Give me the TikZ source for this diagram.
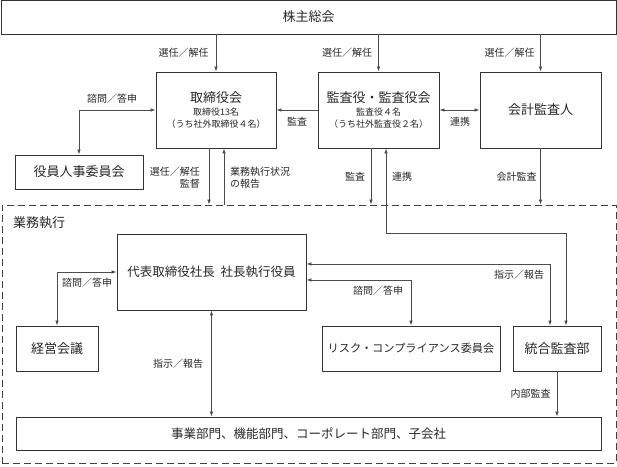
\documentclass[tikz,border=0pt]{standalone}
\usepackage{fontspec}
\setmainfont{Noto Sans CJK JP}
\usepackage{tikz}
\usetikzlibrary{arrows.meta,calc}

\begin{document}
\begin{tikzpicture}[x=1pt,y=1pt,yscale=-1,xscale=1,
    box/.style={draw=black!80,line width=0.9pt,inner sep=0pt,align=center,text=black!85},
    conn/.style={draw=black!70,line width=0.8pt},
    >={Latex[length=5pt,width=3.6pt]},
    lbl/.style={inner sep=0pt,text=black!85,font=\fontsize{10}{12}\selectfont}]
    \useasboundingbox (0,0) rectangle (617,466);

    %Shape: Rectangle [id:gm]
    \node[box,minimum width=615,minimum height=34,font=\fontsize{13}{15}\selectfont] (gm) at (308.5,17) {株主総会};
    %Shape: Rectangle [id:board]
    \node[box,minimum width=120,minimum height=76] (board) at (216,110) {{\fontsize{13}{15}\selectfont 取締役会}\\[1pt]{\fontsize{9}{12}\selectfont 取締役13名}\\{\fontsize{9}{12}\selectfont （うち社外取締役４名）}};
    %Shape: Rectangle [id:aud]
    \node[box,minimum width=121,minimum height=76] (aud) at (378.5,110) {{\fontsize{13}{15}\selectfont 監査役・監査役会}\\[1pt]{\fontsize{9}{12}\selectfont 監査役４名}\\{\fontsize{9}{12}\selectfont （うち社外監査役２名）}};
    %Shape: Rectangle [id:acc]
    \node[box,minimum width=121,minimum height=76,font=\fontsize{13}{15}\selectfont] (acc) at (540.5,110) {会計監査人};
    %Shape: Rectangle [id:hr]
    \node[box,minimum width=128,minimum height=34,font=\fontsize{13}{15}\selectfont] (hr) at (79,172) {役員人事委員会};

    %Shape: Rectangle [id:bizexec]
    \node[draw=black!75,line width=0.9pt,dash pattern=on 7pt off 4pt,minimum width=614,minimum height=258,inner sep=0pt] (bizexec) at (309,334) {};
    % Text Node
    \node[inner sep=0pt,text=black!85,font=\fontsize{13}{15}\selectfont] (bizlbl) at (39,223) {業務執行};

    %Shape: Rectangle [id:ceo]
    \node[box,minimum width=189,minimum height=76,font=\fontsize{12.5}{15}\selectfont] (ceo) at (211.5,272) {代表取締役社長\ \ 社長執行役員};
    %Shape: Rectangle [id:mtg]
    \node[box,minimum width=82,minimum height=45,font=\fontsize{13}{15}\selectfont] (mtg) at (57,348.5) {経営会議};
    %Shape: Rectangle [id:risk]
    \node[box,minimum width=178,minimum height=45,font=\fontsize{11.2}{14}\selectfont] (risk) at (411,348.5) {リスク・コンプライアンス委員会};
    %Shape: Rectangle [id:ia]
    \node[box,minimum width=88,minimum height=45,font=\fontsize{13}{15}\selectfont] (ia) at (557,348.5) {統合監査部};
    %Shape: Rectangle [id:div]
    \node[box,minimum width=585,minimum height=33,font=\fontsize{12.5}{15}\selectfont] (div) at (308.5,433.5) {事業部門、機能部門、コーポレート部門、子会社};

    % helper points
    \coordinate (bd) at ($(board.south)+(-7,0)$);
    \coordinate (bu) at ($(board.south)+(8,0)$);
    \coordinate (ad) at ($(aud.south)+(-7.5,0)$);
    \coordinate (au) at ($(aud.south)+(7.5,0)$);
    \coordinate (ic) at ($(ia.north)+(9,0)$);
    \coordinate (ii) at ($(ia.north)+(-7,0)$);
    \coordinate (cu) at ($(ceo.east)+(0,-8)$);
    \coordinate (cd) at ($(ceo.east)+(0,8)$);

    % Straight Lines
    \draw[conn,->] (board.north |- gm.south) -- (board.north);
    \draw[conn,->] (aud.north |- gm.south) -- (aud.north);
    \draw[conn,->] (acc.north |- gm.south) -- (acc.north);
    \draw[conn,->] (aud.west) -- (board.east);
    \draw[conn,<->] (aud.east) -- (acc.west);
    \draw[conn,<->] (board.west) -| (hr.north);
    \draw[conn,->] (bd) -- (bd |- bizexec.north);
    \draw[conn,<-] (bu) -- (bu |- bizexec.north);
    \draw[conn,->] (ad) -- (ad |- bizexec.north);
    \draw[conn,<->] (au) |- (ic |- ceo.north) -- (ic);
    \draw[conn,->] (acc.south) -- (acc.south |- bizexec.north);
    \draw[conn,<->] (ceo.west) -| (mtg.north);
    \draw[conn,<->] (cu) -| (ii);
    \draw[conn,<->] (cd) -| (risk.north);
    \draw[conn,<->] (ceo.south) -- (ceo.south |- div.north);
    \draw[conn,->] (ia.south) -- (ia.south |- div.north);

    % Text Node
    \node[lbl] (l1) at (183.5,53) {選任／解任};
    % Text Node
    \node[lbl] (l2) at (347,53) {選任／解任};
    % Text Node
    \node[lbl] (l3) at (509.5,53) {選任／解任};
    % Text Node
    \node[lbl] (l4) at (112,99) {諮問／答申};
    % Text Node
    \node[lbl] (l5) at (297,122) {監査};
    % Text Node
    \node[lbl] (l6) at (460,122) {連携};
    % Text Node
    \node[lbl,align=right,anchor=east] (l7) at (200,178) {選任／解任\\監督};
    % Text Node
    \node[lbl,align=left,anchor=west] (l8) at (230,178) {業務執行状況\\の報告};
    % Text Node
    \node[lbl] (l9) at (355,177) {監査};
    % Text Node
    \node[lbl] (l10) at (402,177) {連携};
    % Text Node
    \node[lbl] (l11) at (516.5,177) {会計監査};
    % Text Node
    \node[lbl] (l12) at (87,283) {諮問／答申};
    % Text Node
    \node[lbl] (l13) at (378,291) {諮問／答申};
    % Text Node
    \node[lbl] (l14) at (519,275) {指示／報告};
    % Text Node
    \node[lbl] (l15) at (178,364) {指示／報告};
    % Text Node
    \node[lbl] (l16) at (530.5,394) {内部監査};
\end{tikzpicture}
\end{document}
